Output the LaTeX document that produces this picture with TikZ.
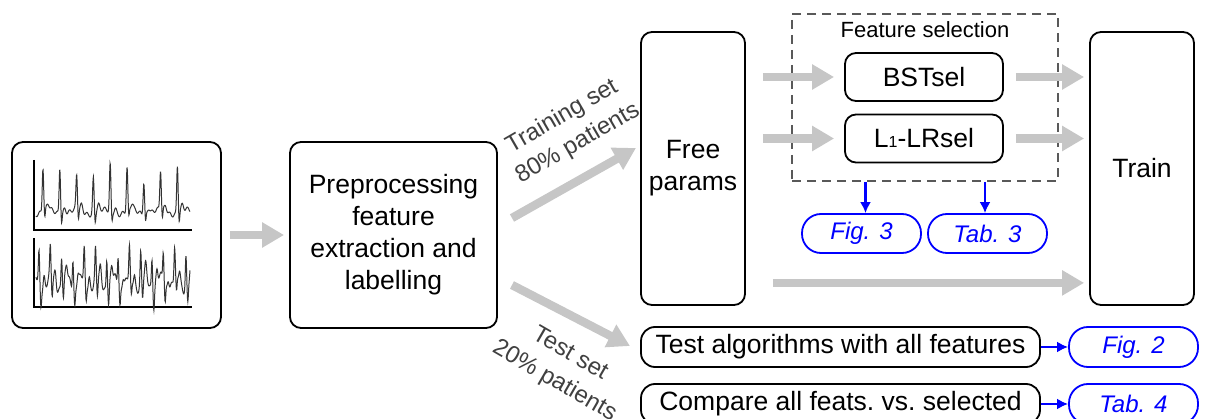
\documentclass[tikz,border=0pt]{standalone}
\usepackage{fontspec}
\setmainfont{Liberation Sans}
\usetikzlibrary{arrows.meta}

\begin{document}
\begin{tikzpicture}[x=1pt, y=-1pt,
  every node/.style = {align=center, inner sep=0pt},
  box/.style = {draw, line width=1.8pt, rounded corners=11pt,
    font=\fontsize{26.5}{32}\selectfont},
  selbox/.style = {box, minimum width=158pt, minimum height=48pt},
  pill/.style = {draw=blue, text=blue, line width=1.8pt, rounded corners=19pt,
    minimum height=39pt, font=\fontsize{24}{28}\selectfont\itshape},
  garrow/.style = {draw=gray!45, line width=8.5pt,
    -{Triangle[length=22pt, width=24pt]}},
  barrow/.style = {draw=blue, line width=2.2pt, -{Latex[length=11pt, width=11pt]}},
  setlabel/.style = {text=black!75, font=\fontsize{24}{31}\selectfont}]
  \useasboundingbox (0,0) rectangle (1205,419);

  % input signals
  \node[box, minimum width=209pt, minimum height=186pt] (sig) at (116.5,235) {};
  \draw[line width=1.1pt] (34,160) -- (34,230) -- (192,230);
  \draw[line width=1.1pt] (34,238) -- (34,307) -- (192,307);
  \draw[line width=1pt, black!80] plot[domain=36:190, samples=500] (\x,
    {212 - (40+8*sin(\x*37))*exp(-((mod(\x-36,16.8)-7)^2)/1.0) + 9*exp(-((mod(\x-36,16.8)-8.8)^2)/0.6)
     - 6*exp(-((mod(\x-36,16.8)-12)^2)/3) + 2*sin(\x*61) + 3*sin(\x*13)});
  \draw[line width=1pt, black!80] plot[domain=36:190, samples=500] (\x,
    {283 - 30*exp(-((mod(\x-36,11.3)-3)^2)/0.7) + 18*exp(-((mod(\x-36,11.3)-4.9)^2)/0.7)
     - 12*exp(-((mod(\x-36,11.3)-8)^2)/1.5) - 8*sin(\x*23) + 3*sin(\x*71)});

  % processing chain
  \node[box, minimum width=207pt, minimum height=186pt] (prep) at (393.5,235)
    {Preprocessing\\feature\\extraction and\\labelling};
  \node[box, minimum width=104pt, minimum height=273pt] (free) at (693,168.5)
    {Free\\params};
  \node[box, minimum width=104pt, minimum height=273pt] (train) at (1142,168.5)
    {Train};

  % feature selection
  \node[draw=black!65, line width=2.4pt, dash pattern=on 9pt off 6pt,
    minimum width=266pt, minimum height=167pt] (fsel) at (925,97.5) {};
  \node[font=\fontsize{22}{26}\selectfont] (fseltitle) at (925,30) {Feature selection};
  \node[selbox] (bst) at (924,77) {BSTsel};
  \node[selbox] (lr) at (924,138.5) {L{\fontsize{16}{16}\selectfont 1}-LRsel};

  \node[pill, minimum width=119pt] (fig3) at (861.5,233.5) {Fig. 3};
  \node[pill, minimum width=119pt] (tab3) at (987.5,233.5) {Tab. 3};

  % test set
  \node[box, rounded corners=14pt, minimum width=399pt, minimum height=40pt] (test) at (840.5,347)
    {Test algorithms with all features};
  \node[box, rounded corners=14pt, minimum width=399pt, minimum height=40pt] (comp) at (840.5,404)
    {Compare all feats.\ vs.\ selected};
  \node[pill, minimum width=129pt, minimum height=40pt] (fig2) at (1133.5,347) {Fig. 2};
  \node[pill, minimum width=129pt, minimum height=40pt] (tab4) at (1133.5,404) {Tab. 4};

  % free ends of the gray arrows
  \coordinate (trs) at (512,218);
  \coordinate (tre) at (636,148);
  \coordinate (tss) at (512,285);
  \coordinate (tse) at (630,346);

  \draw[garrow] (sig.east) ++(8,0) -- ([xshift=-5pt]prep.west);
  \draw[garrow] (trs) -- (tre);
  \draw[garrow] (tss) -- (tse);
  \draw[garrow] ([xshift=17pt]free.east |- bst) -- ([xshift=-10pt]bst.west);
  \draw[garrow] ([xshift=17pt]free.east |- lr) -- ([xshift=-10pt]lr.west);
  \draw[garrow] ([xshift=12pt]bst.east) -- ([xshift=-5pt]train.west |- bst);
  \draw[garrow] ([xshift=12pt]lr.east) -- ([xshift=-5pt]train.west |- lr);
  \draw[garrow] ([shift={(27pt,23pt)}]free.south east) -- ([shift={(-5pt,23pt)}]train.south west);

  \node[setlabel, rotate=30] (trlab) at (570,130) {Training set\\80\% patients};
  \node[setlabel, rotate=-30] (tslab) at (562,368) {Test set\\20\% patients};

  % references to figures and tables
  \draw[barrow] (fsel.south -| fig3.north) ++(4,0) coordinate (f3a) -- (f3a |- fig3.north);
  \draw[barrow] (fsel.south -| tab3.north) ++(-2.5,0) coordinate (t3a) -- (t3a |- tab3.north);
  \draw[barrow] (test) -- (fig2);
  \draw[barrow] (comp) -- (tab4);
\end{tikzpicture}
\end{document}
